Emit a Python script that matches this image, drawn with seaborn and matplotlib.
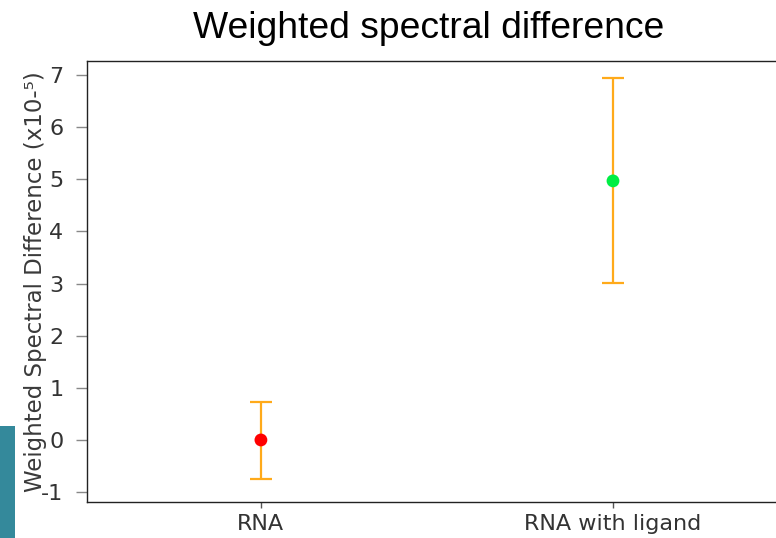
import matplotlib
matplotlib.use("Agg")
import matplotlib.pyplot as plt
import seaborn as sns
import pandas as pd
from matplotlib.patches import Rectangle

categories = ["RNA", "RNA with ligand"]
means = [0.0, 4.97]
lower = [-0.74, 3.02]
upper = [0.72, 6.95]
point_colors = ["#ff0000", "#00ee44"]
yticks = [-1, 0, 1, 2, 3, 4, 5, 6, 7]

sns.set_theme(style="white")
plt.rcParams["font.family"] = ["DejaVu Sans"]

df = pd.DataFrame({"cat": categories, "val": means})

fig = plt.figure(figsize=(7.76, 5.38), dpi=100)
ax = fig.add_axes([87 / 776, 1 - 502 / 538, 1 - 87 / 776, (502 - 61) / 538])

xs = list(range(len(categories)))
yerr = [[m - l for m, l in zip(means, lower)], [u - m for m, u in zip(means, upper)]]
ax.errorbar(xs, means, yerr=yerr, fmt="none", ecolor="#ffaa1a", elinewidth=1.6,
            capsize=8, capthick=1.6, zorder=2)
sns.scatterplot(data=df, x="cat", y="val", hue="cat", palette=point_colors,
                s=85, edgecolor="none", legend=False, ax=ax, zorder=3)

ax.set_xlim(-0.494, 1.463)
ax.set_ylim(-1.19, 7.27)
ax.set_yticks(yticks)
ax.set_yticklabels([str(t) for t in yticks])
ax.set_xlabel("")
ax.set_ylabel("Weighted Spectral Difference (x10-⁵)", fontsize=16.5, color="#3a3a3a", labelpad=-4)

for s in ["top", "bottom", "left"]:
    ax.spines[s].set_visible(True)
    ax.spines[s].set_color("#222222")
    ax.spines[s].set_linewidth(1.0)
ax.spines["right"].set_visible(False)

ax.tick_params(axis="y", left=True, length=8, width=1, color="#888888", pad=9,
               labelsize=16, labelcolor="#333333")
ax.tick_params(axis="x", bottom=True, length=4, width=1, color="#555555", pad=5,
               labelsize=16, labelcolor="#333333")

fig.text(428.5 / 776, 1 - 29 / 538, "Weighted spectral difference", ha="center", va="center",
         fontsize=26.8, family=["Liberation Sans"], color="black")

fig.patches.append(Rectangle((0, 0), 15 / 776, (538 - 426) / 538, transform=fig.transFigure,
                             facecolor="#34899b", edgecolor="none", zorder=0))

fig.savefig("out.png", dpi=100)
